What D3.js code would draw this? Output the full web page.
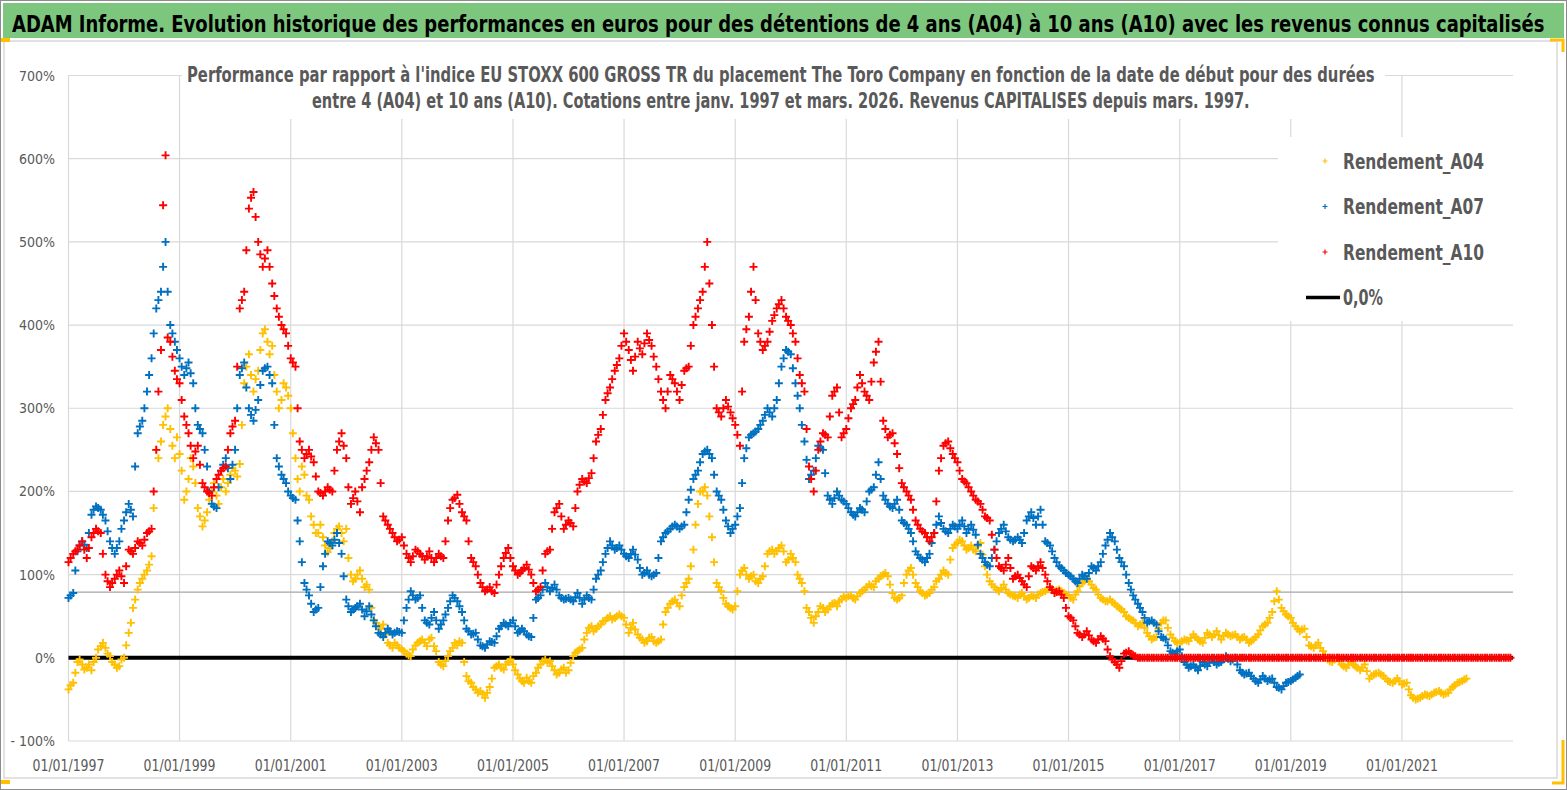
<!DOCTYPE html>
<html>
<head>
<meta charset="utf-8">
<script src="https://cdn.jsdelivr.net/npm/d3@7"></script>
<style>
  body { margin: 0; background: #fff; }
  svg { display: block; }
  text { font-family: "Liberation Sans Narrow", "DejaVu Sans Condensed", "Open Sans", sans-serif; }
</style>
</head>
<body>
<svg id="chart"></svg>
<script>
// valeurs mensuelles (%) au 1er du mois, première valeur = janv. 1997
var a04 = [
  -38, -30, -5, -8, -12, -15, 0, 14, 12, 2, -8, -10,
  0, 30, 60, 82, 95, 105, 122, 250, 260, 290, 275, 240,
  245, 190, 215, 230, 180, 158, 175, 200, 195, 205, 200, 220,
  225, 233, 330, 365, 320, 345, 390, 380, 375, 320, 310, 325,
  300, 240, 200, 220, 190, 160, 150, 145, 127, 140, 155, 150,
  155, 100, 95, 105, 85, 82, 45, 38, 40, 18, 12, 15,
  10, 5, 2, 15, 20, 18, 22, 14, -5, -10, 2, 12,
  15, 18, -22, -30, -38, -40, -48, -35, -12, -8, -14, -5,
  -8, -20, -28, -24, -30, -18, -8, -2, -4, -15, -18, -12,
  -15, 2, 8, 12, 30, 38, 35, 40, 45, 50, 48, 52,
  48, 30, 42, 28, 22, 20, 25, 18, 22, 55, 65, 70,
  62, 85, 95, 130, 185, 200, 195, 145, 90, 80, 65, 60,
  62, 100, 108, 95, 100, 90, 98, 125, 130, 128, 135, 115,
  125, 115, 95, 80, 55, 42, 55, 60, 58, 65, 62, 70,
  72, 75, 70, 78, 82, 88, 85, 95, 100, 98, 78, 70,
  75, 100, 108, 90, 80, 75, 78, 85, 95, 105, 100, 132,
  138, 140, 130, 135, 128, 138, 110, 92, 85, 80, 88, 78,
  75, 72, 78, 70, 75, 72, 78, 80, 85, 80, 82, 78,
  75, 70, 80, 90, 95, 88, 82, 72, 68, 70, 65, 60,
  55, 48, 45, 38, 42, 30, 22, 25, 42, 45, 28, 20,
  18, 22, 20, 28, 22, 18, 30, 25, 32, 22, 30, 26,
  28, 22, 25, 18, 22, 28, 38, 42, 55, 80, 60, 52,
  48, 38, 32, 35, 15, 12, 18, 8, -2, -5, 0, -8,
  -12, -5, -10, -15, -8, -25, -20, -18, -22, -28, -30, -25,
  -32, -30, -45, -50, -48, -44, -46, -42, -40, -44, -42, -35,
  -30, -28, -25
];
// valeurs au 15 du mois (autre bord du nuage de points)
var a04mid = [
  -33, -18, -2, -14, -8, -5, 10, 18, 5, -5, -12, -2,
  15, 42, 70, 90, 100, 112, 180, 240, 280, 300, 255, 265,
  225, 200, 240, 210, 170, 165, 190, 210, 185, 215, 210, 228,
  218, 280, 350, 340, 335, 370, 395, 365, 340, 300, 330, 315,
  270, 215, 230, 195, 170, 150, 160, 135, 132, 150, 158, 140,
  120, 92, 100, 95, 88, 60, 42, 35, 28, 15, 18, 12,
  8, 3, 10, 18, 22, 14, 24, 8, -8, -4, 8, 18,
  20, -5, -28, -35, -42, -44, -42, -25, -10, -12, -8, -2,
  -15, -25, -30, -28, -22, -12, -4, -6, -10, -20, -14, -18,
  -6, 6, 10, 22, 36, 32, 38, 44, 48, 46, 50, 50,
  40, 36, 34, 24, 18, 24, 20, 20, 40, 60, 68, 66,
  75, 90, 110, 160, 200, 205, 170, 115, 85, 72, 62, 58,
  80, 105, 100, 98, 92, 95, 110, 128, 125, 132, 128, 118,
  120, 100, 90, 60, 48, 50, 62, 55, 62, 66, 68, 74,
  74, 72, 74, 80, 85, 86, 92, 98, 102, 88, 72, 72,
  90, 105, 100, 85, 78, 76, 82, 92, 100, 102, 118, 136,
  142, 135, 132, 130, 134, 124, 100, 88, 82, 84, 82, 76,
  74, 76, 74, 72, 74, 76, 79, 82, 82, 81, 80, 76,
  72, 76, 86, 92, 92, 84, 76, 70, 68, 67, 62, 58,
  50, 46, 42, 40, 36, 26, 24, 35, 45, 36, 24, 18,
  20, 21, 24, 25, 20, 24, 28, 28, 27, 26, 28, 27,
  25, 24, 22, 20, 25, 33, 40, 48, 68, 70, 56, 50,
  42, 35, 34, 25, 14, 15, 12, 3, -4, -2, -4, -10,
  -8, -8, -12, -12, -16, -22, -19, -20, -25, -29, -28, -28,
  -31, -38, -48, -49, -46, -45, -44, -41, -42, -43, -38, -33,
  -29, -26
];
var a07 = [
  72, 78, 128, 140, 132, 172, 182, 178, 165, 140, 125, 140,
  165, 185, 170, 270, 285, 320, 360, 420, 440, 500, 400, 380,
  360, 340, 355, 330, 280, 270, 230, 185, 180, 225, 240, 215,
  250, 340, 355, 300, 285, 310, 345, 350, 330, 240, 220, 210,
  195, 190, 140, 90, 75, 55, 60, 110, 140, 135, 150, 125,
  70, 55, 60, 65, 50, 62, 45, 30, 25, 35, 28, 32,
  30, 60, 80, 70, 75, 45, 40, 55, 35, 45, 60, 75,
  68, 55, 35, 28, 30, 15, 12, 20, 18, 35, 42, 38,
  45, 30, 35, 28, 25, 70, 75, 90, 80, 88, 75, 70,
  72, 68, 78, 65, 75, 70, 95, 105, 125, 140, 130, 135,
  125, 120, 130, 118, 100, 105, 98, 102, 140, 150, 155, 160,
  155, 160, 190, 215, 225, 245, 250, 240, 200, 190, 165, 150,
  160, 180, 240, 265, 270, 275, 285, 300, 290, 310, 350, 370,
  365, 330, 300, 260, 215, 225, 255, 250, 195, 185, 200, 190,
  185, 175, 170, 180, 175, 200, 205, 235, 195, 185, 180, 190,
  165, 160, 150, 128, 120, 115, 125, 150, 170, 155, 150, 160,
  155, 165, 150, 160, 148, 125, 115, 110, 130, 150, 160, 145,
  140, 145, 138, 165, 175, 160, 178, 140, 135, 120, 110, 105,
  100, 95, 90, 100, 95, 110, 105, 115, 135, 150, 140, 120,
  110, 90, 75, 65, 55, 42, 45, 40, 25, 22, 8, 5,
  10, -5, -12, -8, -15, -5, -10, -2, -8, -5, 2, -4,
  0, -15, -20, -18, -25, -30, -22, -28, -25, -35, -38, -30,
  -28, -24, -20
];
var a07mid = [
  75, 105, 135, 136, 150, 178, 180, 172, 152, 132, 132, 155,
  175, 178, 230, 278, 300, 340, 390, 430, 470, 440, 390, 370,
  350, 348, 342, 300, 275, 250, 200, 182, 205, 232, 228, 232,
  300, 348, 325, 292, 298, 328, 348, 340, 280, 230, 215, 200,
  192, 165, 115, 82, 65, 58, 85, 125, 138, 142, 138, 98,
  62, 58, 62, 58, 56, 52, 38, 28, 30, 32, 30, 31,
  45, 70, 75, 72, 60, 42, 48, 45, 40, 52, 68, 72,
  62, 45, 32, 29, 22, 14, 16, 19, 26, 38, 40, 42,
  38, 32, 32, 26, 48, 72, 82, 85, 84, 82, 72, 71,
  70, 73, 72, 70, 72, 82, 100, 115, 132, 135, 132, 130,
  122, 125, 124, 108, 102, 100, 100, 120, 145, 152, 158, 158,
  158, 175, 202, 220, 235, 248, 245, 220, 195, 178, 158, 155,
  170, 210, 252, 268, 272, 280, 292, 295, 300, 330, 360, 368,
  348, 315, 280, 238, 220, 240, 252, 222, 190, 192, 195, 188,
  180, 172, 175, 178, 188, 202, 220, 215, 190, 182, 185, 178,
  162, 155, 140, 124, 118, 120, 138, 160, 162, 152, 155, 158,
  160, 158, 155, 154, 136, 120, 112, 120, 140, 155, 152, 142,
  142, 142, 150, 170, 168, 170, 160, 138, 128, 115, 108, 102,
  98, 92, 95, 98, 102, 108, 110, 125, 142, 145, 130, 115,
  100, 82, 70, 60, 48, 44, 42, 32, 24, 15, 6, 8,
  2, -8, -10, -12, -10, -8, -6, -5, -6, -2, -1, -2,
  -8, -18, -19, -22, -28, -26, -25, -26, -30, -36, -34, -29,
  -26, -22
];
var a10 = [
  115, 125, 130, 140, 120, 145, 155, 150, 100, 85, 95, 105,
  90, 130, 125, 140, 135, 150, 155, 250, 370, 604, 380, 345,
  330, 290, 270, 240, 255, 210, 200, 195, 215, 225, 230, 270,
  285, 420, 440, 540, 560, 500, 470, 490, 450, 420, 400, 390,
  360, 350, 260, 240, 250, 235, 200, 195, 205, 200, 250, 270,
  240, 185, 200, 175, 215, 235, 265, 250, 170, 160, 150, 140,
  145, 125, 115, 130, 125, 118, 128, 115, 125, 120, 165, 190,
  196, 175, 165, 120, 110, 90, 80, 85, 78, 100, 120, 132,
  110, 100, 105, 112, 100, 80, 85, 125, 130, 175, 185, 155,
  165, 158, 200, 215, 210, 222, 260, 275, 310, 325, 345, 360,
  390, 370, 345, 380, 365, 390, 375, 350, 320, 300, 340, 330,
  310, 345, 350, 400, 420, 440, 500, 400, 300, 290, 310, 295,
  280, 255, 380, 410, 470, 390, 370, 380, 405, 420, 430, 410,
  400, 380, 340, 320, 230, 200, 250, 270, 265, 315, 325, 265,
  275, 300, 310, 340, 320, 310, 355, 380, 285, 265, 270, 245,
  210, 200, 190, 165, 155, 150, 140, 150, 225, 255, 260, 245,
  235, 215, 210, 200, 190, 185, 170, 165, 130, 110, 105, 120,
  95, 100, 92, 85, 110, 105, 115, 100, 85, 78, 80, 72,
  50, 45, 30, 25, 32, 22, 18, 26, 20, 2, -5, -12,
  5, 8, 3, 0, 0, 0, 0, 0, 0, 0, 0, 0,
  0, 0, 0, 0, 0, 0, 0, 0, 0, 0, 0, 0,
  0, 0, 0, 0, 0, 0, 0, 0, 0, 0, 0, 0,
  0, 0, 0, 0, 0, 0, 0, 0, 0, 0, 0, 0,
  0, 0, 0, 0, 0, 0, 0, 0, 0, 0, 0, 0,
  0, 0, 0, 0, 0, 0, 0, 0, 0, 0, 0, 0,
  0, 0, 0, 0, 0, 0, 0, 0, 0, 0, 0, 0
];
var a10mid = [
  120, 128, 135, 130, 132, 150, 152, 125, 92, 90, 100, 98,
  110, 128, 132, 138, 142, 152, 200, 320, 544, 385, 362, 335,
  310, 280, 255, 248, 232, 205, 198, 205, 220, 228, 250, 278,
  350, 430, 490, 553, 530, 485, 480, 470, 435, 410, 395, 375,
  355, 300, 250, 245, 242, 218, 198, 200, 202, 225, 260, 255,
  205, 192, 188, 205, 225, 250, 258, 210, 165, 155, 145, 142,
  135, 120, 122, 128, 122, 122, 120, 120, 122, 140, 180, 192,
  185, 170, 140, 115, 100, 85, 82, 80, 88, 110, 126, 120,
  105, 102, 108, 106, 90, 82, 105, 128, 155, 180, 170, 160,
  162, 180, 208, 212, 216, 240, 268, 292, 318, 335, 352, 375,
  380, 358, 362, 372, 378, 382, 362, 335, 310, 320, 335, 320,
  328, 348, 375, 410, 430, 470, 450, 350, 295, 300, 302, 288,
  268, 320, 395, 440, 430, 380, 375, 392, 412, 425, 420, 405,
  390, 360, 330, 275, 215, 225, 260, 268, 290, 320, 295, 270,
  288, 305, 325, 330, 315, 332, 368, 332, 275, 268, 258, 228,
  205, 195, 178, 160, 152, 145, 145, 188, 240, 258, 252, 240,
  225, 212, 205, 195, 188, 178, 168, 148, 120, 108, 112, 108,
  98, 96, 88, 98, 108, 110, 108, 92, 82, 79, 76, 60,
  48, 38, 28, 28, 27, 20, 22, 23, 10, -2, -8, -4,
  6, 5, 2, 0, 0, 0, 0, 0, 0, 0, 0, 0,
  0, 0, 0, 0, 0, 0, 0, 0, 0, 0, 0, 0,
  0, 0, 0, 0, 0, 0, 0, 0, 0, 0, 0, 0,
  0, 0, 0, 0, 0, 0, 0, 0, 0, 0, 0, 0,
  0, 0, 0, 0, 0, 0, 0, 0, 0, 0, 0, 0,
  0, 0, 0, 0, 0, 0, 0, 0, 0, 0, 0, 0,
  0, 0, 0, 0, 0, 0, 0, 0, 0, 0, 0, 0
];
var seriesNames = ["Rendement_A04", "Rendement_A07", "Rendement_A10"];
var seriesColors = ["#FFC000", "#0070C0", "#FF0000"];
var yTicks = [-100, 0, 100, 200, 300, 400, 500, 600, 700];
var xTickYears = [1997, 1999, 2001, 2003, 2005, 2007, 2009, 2011, 2013, 2015, 2017, 2019, 2021];
var refLine = 79; // ligne grise horizontale

var title = "ADAM Informe. Evolution historique des performances en euros pour des détentions de 4 ans (A04) à 10 ans (A10) avec les revenus connus capitalisés";
var sub1 = "Performance par rapport à l'indice EU STOXX 600 GROSS TR  du placement The Toro Company en fonction de la date de début pour des durées";
var sub2 = "entre 4 (A04) et 10 ans (A10). Cotations entre janv. 1997 et mars. 2026. Revenus CAPITALISES depuis mars. 1997.";

var width = 1567, height = 790;
var svg = d3.select("#chart").attr("width", width).attr("height", height);

var x = d3.scaleTime()
    .domain([new Date(1997, 0, 1), new Date(2023, 0, 1)])
    .range([68.5, 1513]);
var y = d3.scaleLinear()
    .domain([-100, 700])
    .range([741, 75.5]);

// texte étiré horizontalement pour tenir une largeur donnée
function fitText(parent, str, px, py, w, size, weight, color) {
  var t = parent.append("text").attr("font-size", size).attr("font-weight", weight)
      .attr("fill", color).text(str);
  var len = t.node().getComputedTextLength();
  t.attr("transform", "translate(" + px + "," + py + ") scale(" + (w / len) + ",1)");
  return t;
}

// cadre et bandeau
svg.append("rect").attr("x", 0.5).attr("y", 0.5).attr("width", width - 1).attr("height", height - 1)
    .attr("fill", "#fff").attr("stroke", "#8c8c8c");
svg.append("rect").attr("x", 3).attr("y", 3).attr("width", 1561).attr("height", 35).attr("fill", "#7DC67E");
svg.append("rect").attr("x", 4).attr("y", 41).attr("width", 1553).attr("height", 737)
    .attr("fill", "none").attr("stroke", "#d9d9d9").attr("stroke-width", 1.5);
// poignées jaunes
svg.append("rect").attr("x", 1).attr("y", 38).attr("width", 9).attr("height", 4).attr("fill", "#FFC000");
svg.append("rect").attr("x", 1).attr("y", 780).attr("width", 9).attr("height", 4).attr("fill", "#FFC000");
svg.append("path").attr("d", "M1550,40H1563V52").attr("fill", "none").attr("stroke", "#FFC000").attr("stroke-width", 3);
svg.append("path").attr("d", "M1563,740V783H1552").attr("fill", "none").attr("stroke", "#FFC000").attr("stroke-width", 3);

fitText(svg, title, 12, 31.5, 1533, 23, "bold", "#000");

// grille
var grid = svg.append("g");
grid.selectAll(".hg").data(yTicks).enter().append("line")
    .attr("x1", x.range()[0]).attr("x2", x.range()[1])
    .attr("y1", function(d) { return y(d); }).attr("y2", function(d) { return y(d); })
    .attr("stroke", "#d9d9d9").attr("stroke-width", 1.2);
grid.selectAll(".vg").data(xTickYears).enter().append("line")
    .attr("x1", function(d) { return x(new Date(d, 0, 1)); })
    .attr("x2", function(d) { return x(new Date(d, 0, 1)); })
    .attr("y1", y(700)).attr("y2", y(-100))
    .attr("stroke", "#d9d9d9").attr("stroke-width", 1.2);
grid.append("line")
    .attr("x1", x.range()[0]).attr("x2", x.range()[1])
    .attr("y1", y(refLine)).attr("y2", y(refLine))
    .attr("stroke", "#a6a6a6").attr("stroke-width", 1.2);

// axes texte
svg.selectAll(".yl").data(yTicks).enter().append("text")
    .attr("x", 55).attr("y", function(d) { return y(d) + 5; })
    .attr("text-anchor", "end").attr("font-size", 14).attr("fill", "#595959")
    .text(function(d) { return d < 0 ? "- " + Math.abs(d) + "%" : d + "%"; });
xTickYears.forEach(function(d) {
  fitText(svg, "01/01/" + d, x(new Date(d, 0, 1)) - 36, 771, 72, 16, "normal", "#595959");
});

// sous-titre (fond blanc)
svg.append("rect").attr("x", 182).attr("y", 60).attr("width", 1203).attr("height", 59).attr("fill", "#fff");
fitText(svg, sub1, 187, 82, 1188, 21, "bold", "#595959");
fitText(svg, sub2, 312, 108, 938, 21, "bold", "#595959");

// ligne 0
svg.append("line")
    .attr("x1", x.range()[0]).attr("x2", x.range()[1])
    .attr("y1", y(0)).attr("y2", y(0))
    .attr("stroke", "#000").attr("stroke-width", 4);

// séries : points du 1er et du 15 de chaque mois
var plus = "M-4,0H4M0,-4V4";
var series = [[a04, a04mid], [a07, a07mid], [a10, a10mid]];
series.forEach(function(pair, k) {
  var g = svg.append("g").attr("fill", "none").attr("stroke", seriesColors[k]).attr("stroke-width", 1.9);
  g.selectAll("path.m1").data(pair[0]).enter().append("path")
      .attr("d", plus)
      .attr("transform", function(d, i) {
        return "translate(" + x(new Date(1997, i, 1)) + "," + y(d) + ")";
      });
  g.selectAll("path.m15").data(pair[1]).enter().append("path")
      .attr("d", plus)
      .attr("transform", function(d, i) {
        return "translate(" + x(new Date(1997, i, 15)) + "," + y(d) + ")";
      });
});

// légende
var lg = svg.append("g");
lg.append("rect").attr("x", 1278).attr("y", 137).attr("width", 236).attr("height", 184).attr("fill", "#fff");
seriesNames.forEach(function(n, k) {
  var ly = 161 + k * 45.5;
  lg.append("path").attr("d", "M-2.5,0H2.5M0,-2.5V2.5")
      .attr("transform", "translate(1325," + ly + ")")
      .attr("fill", "none").attr("stroke", seriesColors[k]).attr("stroke-width", 1.2);
  fitText(lg, n, 1343, ly + 7.5, 141, 20.5, "bold", "#595959");
});
lg.append("line").attr("x1", 1306).attr("x2", 1340).attr("y1", 297.5).attr("y2", 297.5)
    .attr("stroke", "#000").attr("stroke-width", 3.5);
fitText(lg, "0,0%", 1343, 305, 40, 20.5, "bold", "#595959");
</script>
</body>
</html>
